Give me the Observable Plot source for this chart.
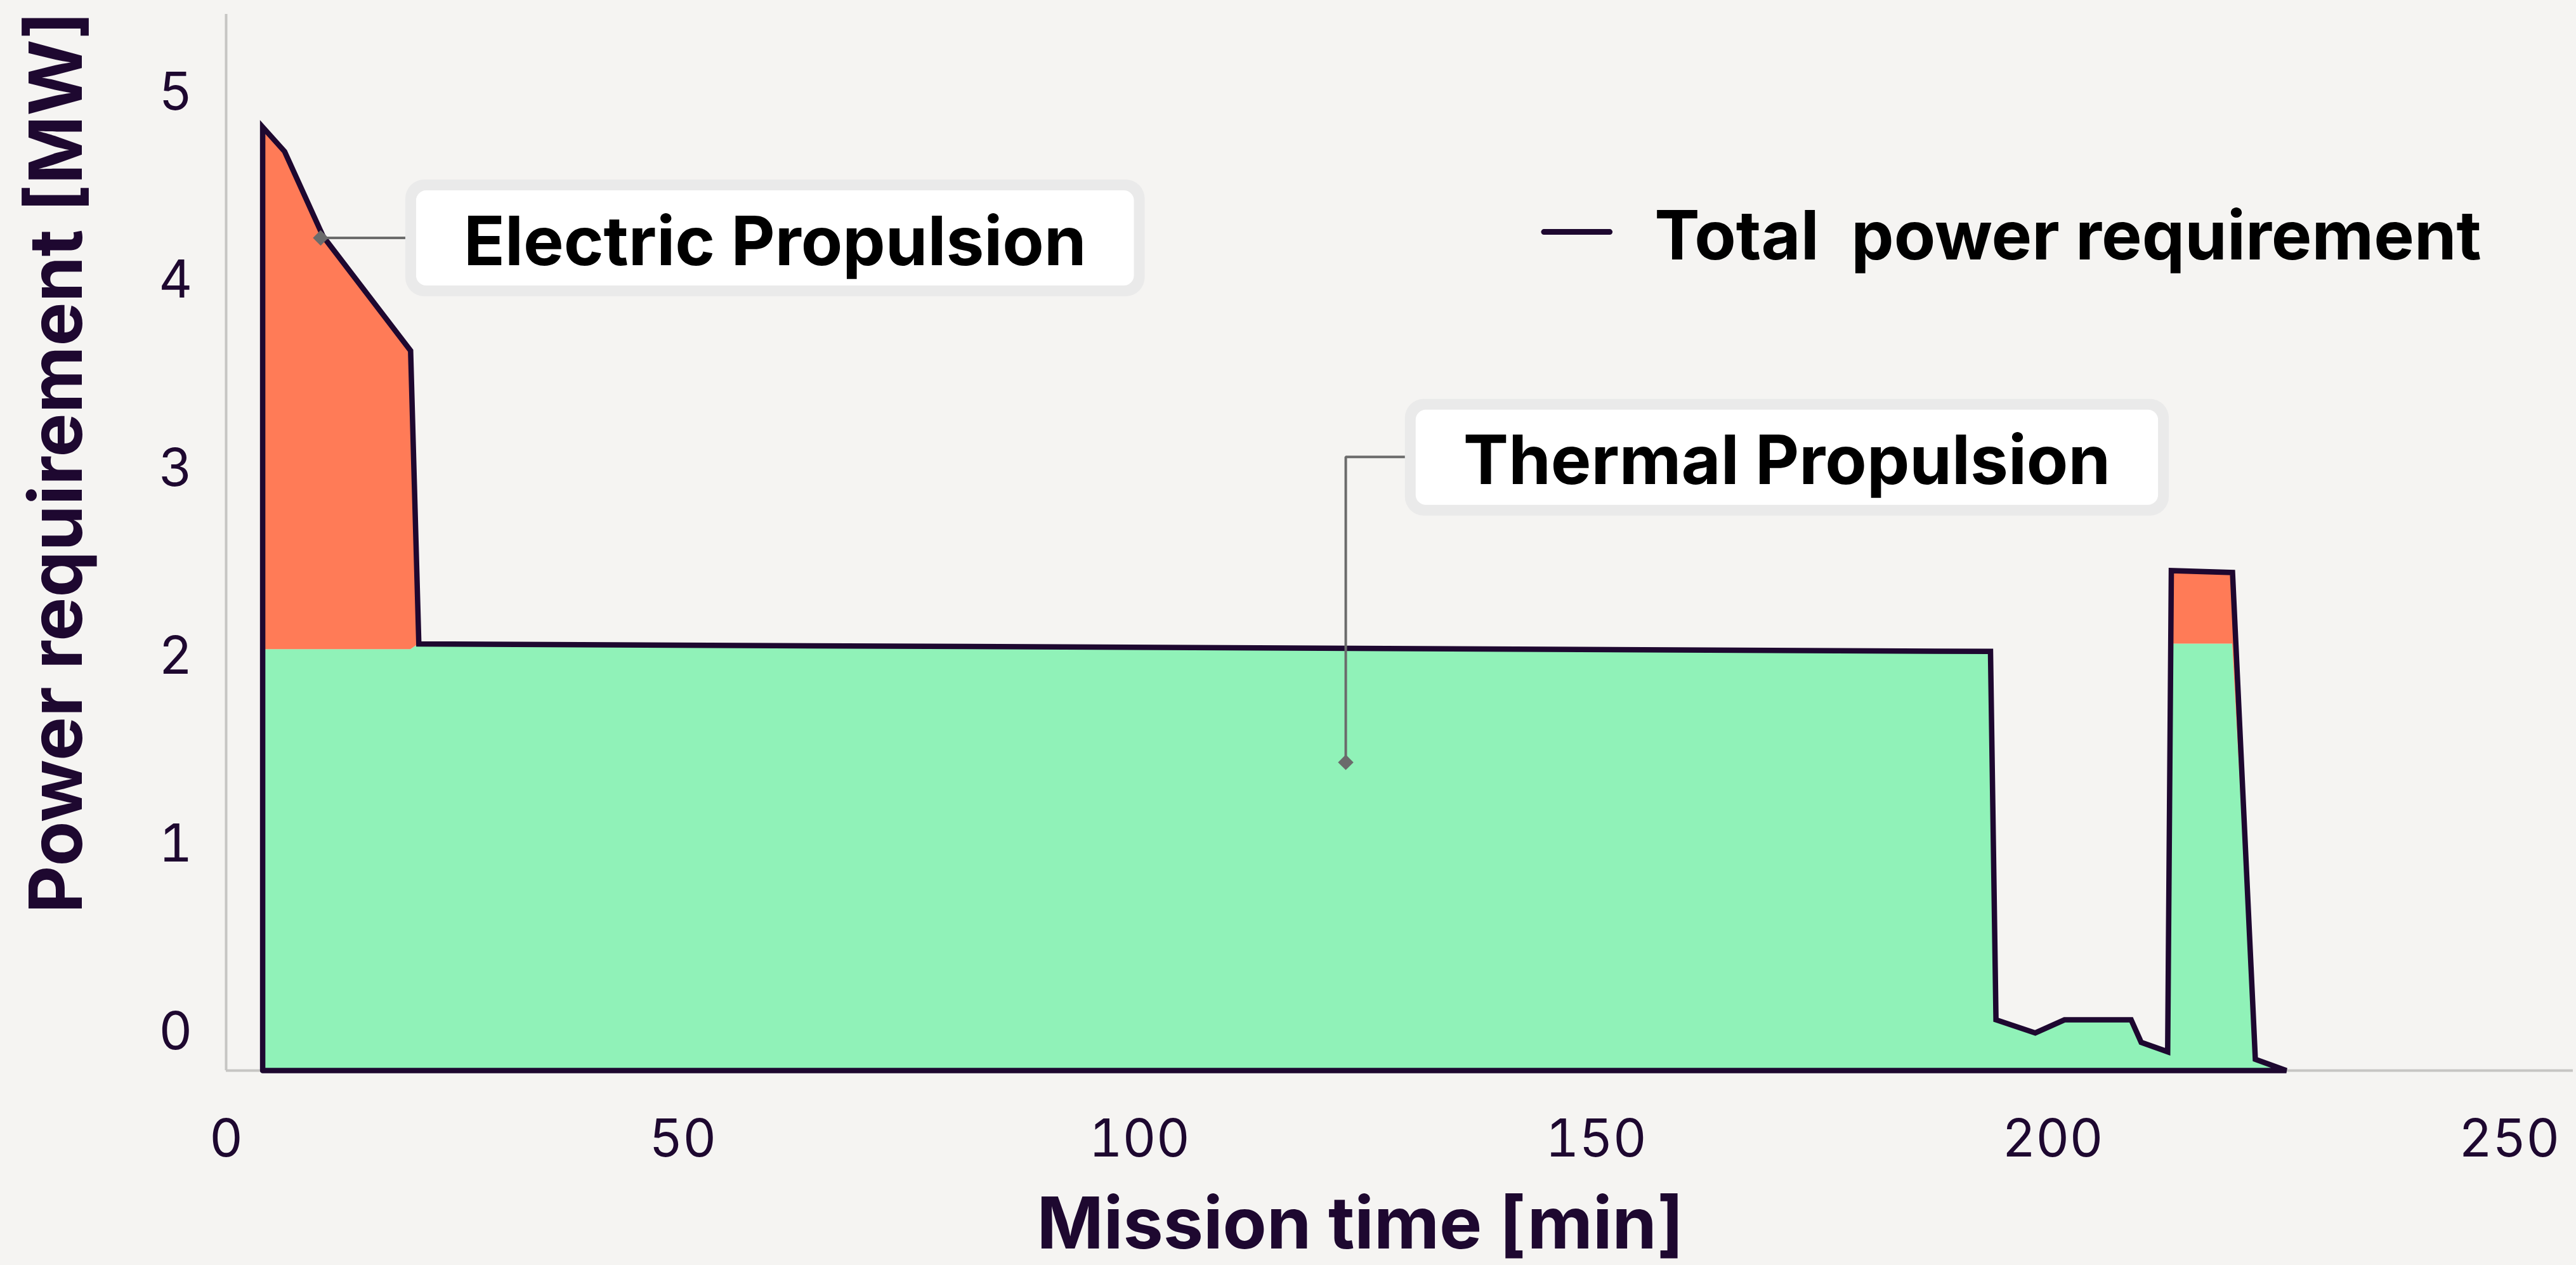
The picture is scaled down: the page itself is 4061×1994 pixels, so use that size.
<!DOCTYPE html>
<html>
<head>
<meta charset="utf-8">
<script src="https://cdn.jsdelivr.net/npm/d3@7"></script>
<script src="https://cdn.jsdelivr.net/npm/@observablehq/plot@0.6"></script>
<style>
  html, body { margin: 0; padding: 0; background: #F5F4F2; }
  #chart { width: 4061px; height: 1994px; }
</style>
</head>
<body>
<div id="chart"></div>
<script>
// ---- data ----
const timeMin   = [4.0, 6.4, 10.6, 20.2, 21.1, 193.2, 193.8, 198.1, 201.3, 208.6, 209.7, 212.6, 213.0, 219.7, 222.2, 225.6];
const totalMW   = [4.82, 4.69, 4.24, 3.63, 2.07, 2.03, 0.07, 0.00, 0.07, 0.07, -0.05, -0.10, 2.46, 2.45, -0.14, -0.20];
const thermalMW = [2.04, 2.04, 2.04, 2.04, 2.07, 2.03, 0.07, 0.00, 0.07, 0.07, -0.05, -0.10, 2.07, 2.07, -0.14, -0.20];
const baselineMW = -0.2;

const xTicks = [0, 50, 100, 150, 200, 250];
const yTicks = [0, 1, 2, 3, 4, 5];
const xDomain = [0, 257];
const yDomain = [-0.2, 5.42];

const xTitle = "Mission time [min]";
const yTitle = "Power requirement [MW]";
const legendLabel = "Total  power requirement";

// annotation labels (anchor point on the data, label centre)
const annoLabels  = ["Electric Propulsion", "Thermal Propulsion"];
const annoPointT  = [10.35, 122.6];
const annoPointY  = [4.23, 1.44];
const annoLabelT  = [60.1, 170.9];
const annoLabelY  = [4.215, 3.048];

// legend sample position (data units)
const legendT = [144.3, 151.5];
const legendY = 4.262;
const legendTextT = 156.4;
const legendTextY = 4.245;

// ---- colours ----
const cGreen = "#90F2B8";
const cOrange = "#FF7B57";
const cDark = "#1E0830";
const cAxis = "#C6C5C3";
const cConn = "#6B6B6B";

// ---- derived tables ----
const rows = timeMin.map((t, i) => ({t, total: totalMW[i], thermal: thermalMW[i], base: baselineMW}));
const outline = [{t: timeMin[0], v: baselineMW}, ...rows.map(r => ({t: r.t, v: r.total})), {t: timeMin[0], v: baselineMW}];
const annos = annoLabels.map((label, i) => ({label, t: annoLabelT[i], y: annoLabelY[i]}));
const annoPoints = annoLabels.map((label, i) => ({t: annoPointT[i], y: annoPointY[i]}));
const connElectric = [{t: annoPointT[0], y: annoPointY[0]}, {t: annoLabelT[0], y: annoPointY[0]}];
const connThermal = [
  {t: annoPointT[1], y: annoPointY[1]},
  {t: annoPointT[1], y: annoLabelY[1] + 0.017},
  {t: annoLabelT[1], y: annoLabelY[1] + 0.017}
];
const legendLine = legendT.map(t => ({t, y: legendY}));

const chart = Plot.plot({
  width: 4061,
  height: 1994,
  marginLeft: 356,
  marginRight: 5,
  marginTop: 22,
  marginBottom: 307,
  style: {
    background: "transparent",
    fontFamily: "Inter, 'Noto Sans', sans-serif",
    fontSize: "82px",
    color: cDark,
    overflow: "visible"
  },
  x: {domain: xDomain, ticks: xTicks, tickSize: 0, tickPadding: 77, label: null, tickFormat: d => String(d)},
  y: {domain: yDomain, ticks: yTicks, tickSize: 0, tickPadding: 53, label: null, tickFormat: d => String(d)},
  marks: [
    Plot.ruleX([xDomain[0]], {stroke: cAxis, strokeWidth: 4}),
    Plot.ruleY([yDomain[0]], {stroke: cAxis, strokeWidth: 4}),
    Plot.areaY(rows, {x: "t", y1: "base", y2: "thermal", fill: cGreen, curve: "linear"}),
    Plot.areaY(rows, {x: "t", y1: "thermal", y2: "total", fill: cOrange, curve: "linear"}),
    Plot.line(outline, {x: "t", y: "v", stroke: cDark, strokeWidth: 8.5, strokeLinejoin: "miter", strokeMiterlimit: 4, curve: "linear"}),
    Plot.line(connElectric, {x: "t", y: "y", stroke: cConn, strokeWidth: 4}),
    Plot.line(connThermal, {x: "t", y: "y", stroke: cConn, strokeWidth: 4, strokeLinejoin: "miter"}),
    Plot.dot(annoPoints, {x: "t", y: "y", symbol: "diamond2", r: 11, fill: cConn, stroke: null}),
    Plot.text(annos, {x: "t", y: "y", text: "label", fontSize: 107, fontWeight: 700, fill: "#000", textAnchor: "middle", lineAnchor: "middle", dy: 4}),
    Plot.line(legendLine, {x: "t", y: "y", stroke: cDark, strokeWidth: 9}),
    Plot.text([legendLabel], {x: () => legendTextT, y: () => legendTextY, text: d => d, fontSize: 107, fontWeight: 700, fill: "#000", textAnchor: "start", lineAnchor: "middle", dy: 4}),
    Plot.text([xTitle], {frameAnchor: "bottom", text: d => d, fontSize: 113, fontWeight: 700, fill: cDark, textAnchor: "middle", lineAnchor: "middle", dx: -62, dy: 244}),
    Plot.text([yTitle], {frameAnchor: "left", text: d => d, rotate: -90, fontSize: 116, fontWeight: 700, fill: cDark, textAnchor: "middle", lineAnchor: "middle", dx: -265, dy: -126})
  ]
});

document.getElementById("chart").appendChild(chart);

// rounded label boxes behind the annotation texts (sized from the measured text)
const svgNS = "http://www.w3.org/2000/svg";
const rootInv = chart.getScreenCTM().inverse();
Array.from(chart.querySelectorAll("text"))
  .filter(t => annoLabels.includes(t.textContent))
  .forEach(t => {
    const g = t.parentNode;
    const b = t.getBBox();
    const q = chart.createSVGPoint();
    q.x = b.x + b.width / 2;
    q.y = b.y + b.height / 2;
    const c = q.matrixTransform(t.getScreenCTM()).matrixTransform(rootInv);
    const w = b.width + 150, h = 150, bw = 17;
    const cy = c.y - 0.035 * 107;
    const outer = document.createElementNS(svgNS, "rect");
    outer.setAttribute("x", c.x - w / 2 - bw);
    outer.setAttribute("y", cy - h / 2 - bw);
    outer.setAttribute("width", w + 2 * bw);
    outer.setAttribute("height", h + 2 * bw);
    outer.setAttribute("rx", 30);
    outer.setAttribute("fill", "#EAEAEA");
    const inner = document.createElementNS(svgNS, "rect");
    inner.setAttribute("x", c.x - w / 2);
    inner.setAttribute("y", cy - h / 2);
    inner.setAttribute("width", w);
    inner.setAttribute("height", h);
    inner.setAttribute("rx", 16);
    inner.setAttribute("fill", "#FFFFFF");
    chart.insertBefore(outer, g);
    chart.insertBefore(inner, g);
  });
</script>
</body>
</html>
